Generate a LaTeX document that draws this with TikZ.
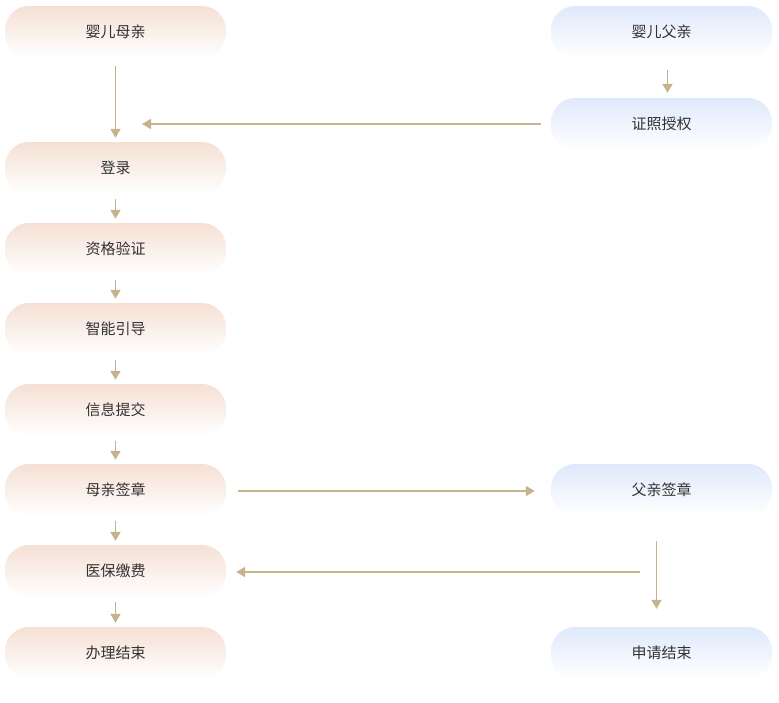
\documentclass[tikz,border=0pt]{standalone}
\usepackage{fontspec}
\setmainfont{Noto Sans CJK SC}
\usetikzlibrary{arrows.meta}
\definecolor{rosa}{HTML}{F5E0D4}
\definecolor{azul}{HTML}{DFE9FB}
\definecolor{oro}{HTML}{C6B28B}
\definecolor{texto}{HTML}{333333}
\begin{document}
\begin{tikzpicture}[
  x=1pt, y=-1pt,
  mnode/.style={rectangle, rounded corners=24pt, minimum width=221pt, minimum height=52pt,
    inner sep=0pt, top color=rosa, bottom color=white, draw=none, text=texto,
    font=\fontsize{15}{17}\selectfont},
  pnode/.style={mnode, top color=azul, bottom color=white},
  flecha/.style={draw=oro, line width=1.8pt, -{Triangle[length=9pt, width=10pt]}}
]
  \useasboundingbox (0,0) rectangle (779,702);

  % Madre
  \node[mnode] (m0) at (115.5, 32) {婴儿母亲};
  \node[mnode] (m1) at (115.5, 168) {登录};
  \node[mnode] (m2) at (115.5, 249) {资格验证};
  \node[mnode] (m3) at (115.5, 329) {智能引导};
  \node[mnode] (m4) at (115.5, 410) {信息提交};
  \node[mnode] (m5) at (115.5, 490) {母亲签章};
  \node[mnode] (m6) at (115.5, 571) {医保缴费};
  \node[mnode] (m7) at (115.5, 653) {办理结束};

  % Padre
  \node[pnode] (p0) at (661.5, 32) {婴儿父亲};
  \node[pnode] (p1) at (661.5, 124) {证照授权};
  \node[pnode] (p2) at (661.5, 490) {父亲签章};
  \node[pnode] (p3) at (661.5, 653) {申请结束};

  \coordinate (junta) at (142, 124);
  \coordinate (vuelta) at (640, 572);

  % Flechas
  \draw[flecha, shorten <=8pt, shorten >=4pt] (m0) -- (m1);
  \foreach \a/\b in {m1/m2, m2/m3, m3/m4, m4/m5, m5/m6, m6/m7}
    \draw[flecha, shorten <=5pt, shorten >=4pt] (\a) -- (\b);
  \draw[flecha, shorten <=10pt] (p1.west) -- (junta);
  \draw[flecha, shorten <=12pt, shorten >=5pt] ([xshift=6pt]p0.south) -- ([xshift=6pt]p1.north);
  \draw[flecha, shorten <=12pt, shorten >=16pt] ([yshift=-1pt]m5.east) -- ([yshift=-1pt]p2.west);
  \draw[flecha, shorten <=25pt, shorten >=18pt] ([xshift=-5pt]p2.south) -- ([xshift=-5pt]p3.north);
  \draw[flecha, shorten >=10pt] (vuelta) -- (m6.east |- vuelta);
\end{tikzpicture}
\end{document}
